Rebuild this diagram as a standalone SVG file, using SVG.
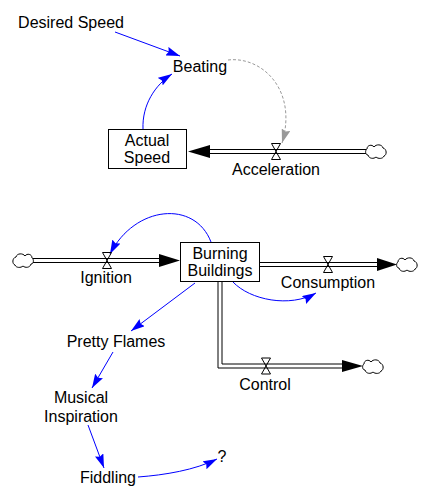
<svg xmlns="http://www.w3.org/2000/svg" width="430" height="504" viewBox="0 0 430 504">
<style>
text{font-family:"Liberation Sans",Arial,sans-serif;font-size:16px;fill:#000;text-anchor:middle}
.box{fill:#fff;stroke:#000;stroke-width:1}
.pipe{fill:none;stroke:#000;stroke-width:1}
.valve{fill:none;stroke:#000;stroke-width:1}
.cloud{fill:#fff;stroke:#000;stroke-width:1}
.link{fill:none;stroke:#0000FF;stroke-width:1}
.dlink{fill:none;stroke:#999999;stroke-width:1;stroke-dasharray:3,2}
.fhead{fill:#000;stroke:none}
</style>
<defs>
<marker id="ab" viewBox="0 0 14 9" refX="14" refY="4.5" markerWidth="14" markerHeight="9" markerUnits="userSpaceOnUse" orient="auto">
<path d="M0,0 L14,4.5 L0,9 L2,4.5 Z" fill="#0000FF"/>
</marker>
<marker id="ag" viewBox="0 0 14 9" refX="14" refY="4.5" markerWidth="14" markerHeight="9" markerUnits="userSpaceOnUse" orient="auto">
<path d="M0,0 L14,4.5 L0,9 L2,4.5 Z" fill="#999999"/>
</marker>
<path id="cloudShape" d="M1,-2 C1,-6 6,-7 8,-4 C10,-7 16,-7 17,-3 C21,-2 21,4 18,5 C17,8 12,8 10,6 C8,8 3,8 2,4 C-1,4 -1,-1 1,-2 Z"/>
<path id="valveShape" d="M-4.5,-8 L4.5,-8 L-4.5,8 L4.5,8 Z"/>
</defs>

<g id="connectors">
<!-- Acceleration pipe -->
<line class="pipe" x1="208" y1="149.5" x2="366" y2="149.5"/>
<line class="pipe" x1="208" y1="153.5" x2="366" y2="153.5"/>
<path class="fhead" d="M188,151.5 L210,145 L210,158 Z"/>
<!-- Ignition pipe -->
<line class="pipe" x1="33" y1="258.5" x2="161" y2="258.5"/>
<line class="pipe" x1="33" y1="262.5" x2="161" y2="262.5"/>
<path class="fhead" d="M180,260.5 L159,254 L159,267 Z"/>
<!-- Consumption pipe -->
<line class="pipe" x1="259" y1="262.5" x2="379" y2="262.5"/>
<line class="pipe" x1="259" y1="266.5" x2="379" y2="266.5"/>
<path class="fhead" d="M397,264.5 L377,258 L377,271 Z"/>
<!-- Control pipe -->
<path class="pipe" d="M218,281 L218,368 L344,368"/>
<path class="pipe" d="M222,281 L222,364 L344,364"/>
<path class="fhead" d="M363,366 L342,360 L342,372 Z"/>

<!-- Information links -->
<path class="link" d="M115,32 L180,56" marker-end="url(#ab)"/>
<path class="link" d="M143,129 C142,105 155,85 172,74" marker-end="url(#ab)"/>
<path class="dlink" d="M228,60 C262,56 298,90 282,143" marker-end="url(#ag)"/>
<path class="link" d="M211,242 C195,200 135,205 110,254" marker-end="url(#ab)"/>
<path class="link" d="M233,282 C250,300 290,308 316,293" marker-end="url(#ab)"/>
<path class="link" d="M195,283 L131,331" marker-end="url(#ab)"/>
<path class="link" d="M113,352 L92,388" marker-end="url(#ab)"/>
<path class="link" d="M88,425 L104,468" marker-end="url(#ab)"/>
<path class="link" d="M138,477 C165,475 195,470 217,459" marker-end="url(#ab)"/>
</g>

<g id="cloud_acceleration"><use href="#cloudShape" class="cloud" transform="translate(366,151)"/></g>
<g id="cloud_ignition"><use href="#cloudShape" class="cloud" transform="translate(33,260) scale(-1,1)"/></g>
<g id="cloud_consumption"><use href="#cloudShape" class="cloud" transform="translate(397,264)"/></g>
<g id="cloud_control"><use href="#cloudShape" class="cloud" transform="translate(363,366)"/></g>

<g id="desired_speed"><text x="71" y="28">Desired Speed</text></g>
<g id="beating"><text x="200" y="72">Beating</text></g>
<g id="actual_speed">
<rect class="box" x="108.5" y="129.5" width="78" height="39"/>
<text x="147" y="146">Actual</text>
<text x="147" y="163">Speed</text>
</g>
<g id="acceleration">
<use href="#valveShape" class="valve" transform="translate(276,151.5)"/>
<text x="276" y="175">Acceleration</text>
</g>
<g id="burning_buildings">
<rect class="box" x="180.5" y="242.5" width="79" height="39"/>
<text x="220" y="259">Burning</text>
<text x="220" y="276">Buildings</text>
</g>
<g id="ignition">
<use href="#valveShape" class="valve" transform="translate(107,260.5)"/>
<text x="106" y="283">Ignition</text>
</g>
<g id="consumption">
<use href="#valveShape" class="valve" transform="translate(328,264.5)"/>
<text x="328" y="288">Consumption</text>
</g>
<g id="control">
<use href="#valveShape" class="valve" transform="translate(266,366)"/>
<text x="265" y="390">Control</text>
</g>
<g id="pretty_flames"><text x="116" y="347">Pretty Flames</text></g>
<g id="musical_inspiration">
<text x="81" y="403">Musical</text>
<text x="81" y="422">Inspiration</text>
</g>
<g id="fiddling"><text x="108" y="483">Fiddling</text></g>
<g id="question"><text x="222" y="462">?</text></g>
</svg>
